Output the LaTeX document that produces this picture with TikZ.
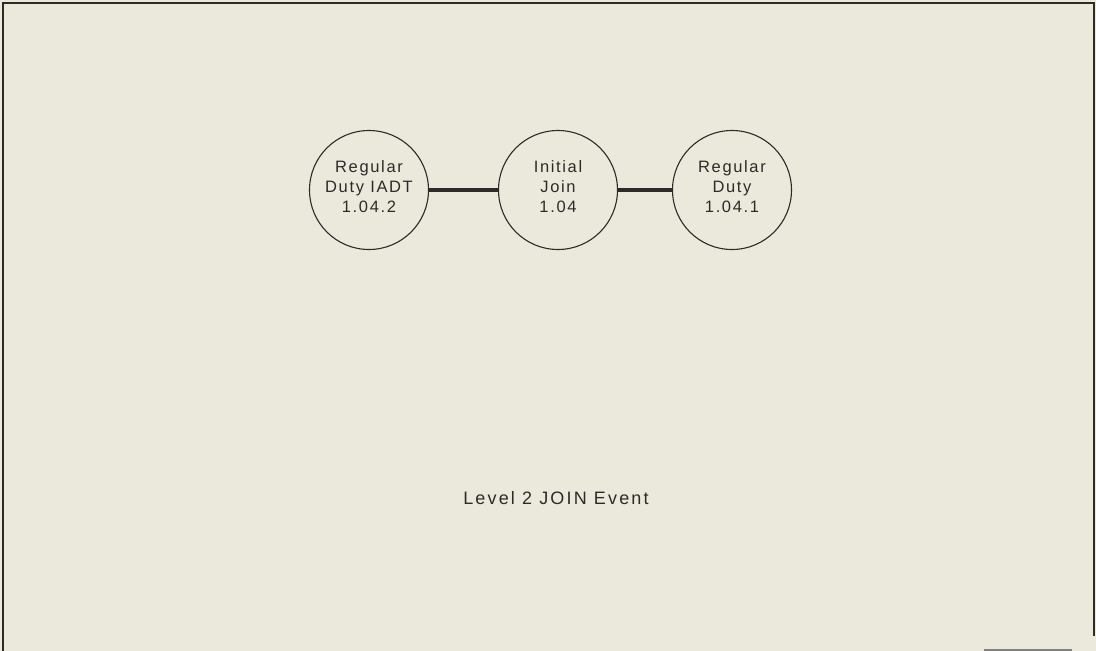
\documentclass[tikz,border=0pt]{standalone}
\usepackage{fontspec}
\setmainfont[LetterSpace=10]{Liberation Sans}
\newfontfamily\captionfont[LetterSpace=12]{Liberation Sans}
\definecolor{bg}{HTML}{EAE9DC}
\definecolor{ink}{HTML}{2E2A2A}
\begin{document}
\begin{tikzpicture}[x=1pt,y=-1pt,
  proc/.style={circle,draw=ink,line width=1.1pt,minimum size=119pt,inner sep=0pt,align=center,font=\fontsize{16.5}{20}\selectfont,text=ink},
  link/.style={draw=ink,line width=4pt}]
\fill[bg] (0,0) rectangle (1096,651);
\useasboundingbox (0,0) rectangle (1096,651);
\draw[ink,line width=2pt] (3,651) -- (3,3) -- (1094,3) -- (1094,636);
\draw[gray,line width=1.5pt] (984,650) -- (1072,650);
\node[proc] (a) at (369,190) {Regular\\Duty IADT\\1.04.2\strut};
\node[proc] (b) at (558,190) {Initial\\Join\\1.04\strut};
\node[proc] (c) at (732,190) {Regular\\Duty\\1.04.1\strut};
\draw[link] (a) -- (b);
\draw[link] (b) -- (c);
\node[font=\captionfont\fontsize{18}{20}\selectfont,text=ink] (t) at (556,498) {Level 2 JOIN Event};
\end{tikzpicture}
\end{document}
